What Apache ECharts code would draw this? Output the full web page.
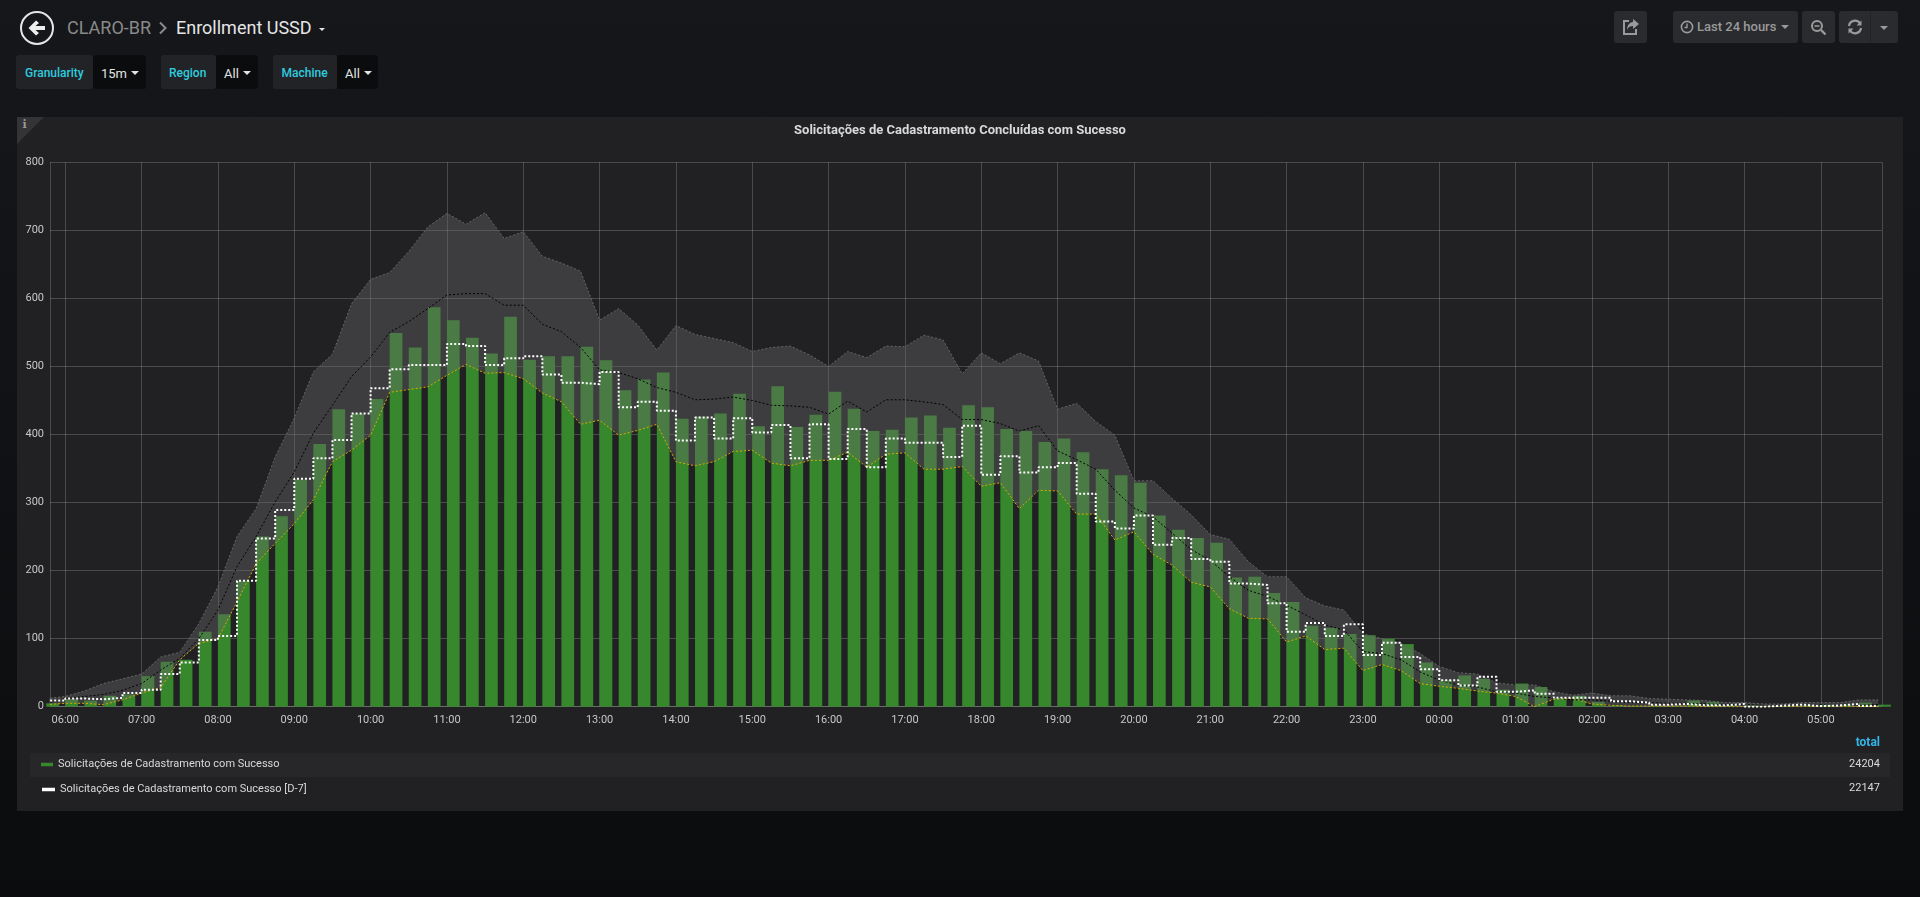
<!DOCTYPE html>
<html><head><meta charset="utf-8"><title>Enrollment USSD</title>
<script src="https://cdn.jsdelivr.net/npm/echarts@6/dist/echarts.min.js"></script>
<style>
html,body{margin:0;padding:0;width:1920px;height:897px;overflow:hidden;background:linear-gradient(#15171a,#0b0c0e);font-family:Roboto,sans-serif}
.a{position:absolute;white-space:nowrap}
.box{position:absolute;border-radius:3px}
.lab{position:absolute;color:#2fcbdf;font-size:12px;font-weight:500;line-height:34px;top:56px}
.val{position:absolute;color:#e3e3e3;font-size:13px;line-height:36px;top:56px}
.caret{position:absolute;width:0;height:0;border-left:4px solid transparent;border-right:4px solid transparent;border-top:4px solid #e3e3e3}
#chart{position:absolute;left:0;top:0;width:1920px;height:897px}
svg{position:absolute}
</style></head><body>
<div class="a" style="left:17px;top:117px;width:1886px;height:694px;background:#212124"></div>
<div class="a" style="left:17px;top:117px;width:0;height:0;border-top:27px solid #343437;border-right:27px solid transparent"></div>
<div class="a" style="left:22.5px;top:118px;color:#9a9a9a;font:bold 11px 'DejaVu Serif',serif">i</div>
<div class="a" style="left:30px;top:753px;width:1860px;height:24px;background:#27272a"></div>

<svg style="left:19px;top:10px" width="36" height="36" viewBox="0 0 36 36"><circle cx="18" cy="18" r="16" fill="none" stroke="#e6e6e6" stroke-width="2"/><path d="M9.5 18 L17 10.5 L20 13 L16.5 16 H26 V20 H16.5 L20 23 L17 25.5 Z" fill="#ededed"/></svg>
<div class="a" style="left:67px;top:16px;color:#8a8a8a;font-size:18px;line-height:24px">CLARO-BR</div>
<svg style="left:158px;top:21px" width="10" height="14" viewBox="0 0 10 14"><path d="M2 1.5 L7.5 7 L2 12.5" fill="none" stroke="#8a8a8a" stroke-width="2"/></svg>
<div class="a" style="left:176px;top:16px;color:#e6e6e6;font-size:18px;line-height:24px">Enrollment USSD</div>
<div class="caret" style="left:319px;top:28px;border-left-width:3.5px;border-right-width:3.5px;border-top-width:3.5px"></div>

<div class="box" style="left:16px;top:55px;width:77px;height:34px;background:#212327"></div>
<div class="box" style="left:93px;top:55px;width:52.5px;height:34px;background:#0b0c0e"></div>
<div class="lab" style="left:25px">Granularity</div><div class="val" style="left:101px">15m</div><div class="caret" style="left:131px;top:71px"></div>
<div class="box" style="left:161px;top:55px;width:54.5px;height:34px;background:#212327"></div>
<div class="box" style="left:215.5px;top:55px;width:42px;height:34px;background:#0b0c0e"></div>
<div class="lab" style="left:169px">Region</div><div class="val" style="left:224px">All</div><div class="caret" style="left:243px;top:71px"></div>
<div class="box" style="left:273px;top:55px;width:64px;height:34px;background:#212327"></div>
<div class="box" style="left:337px;top:55px;width:41px;height:34px;background:#0b0c0e"></div>
<div class="lab" style="left:281.5px">Machine</div><div class="val" style="left:345px">All</div><div class="caret" style="left:364px;top:71px"></div>

<div class="box" style="left:1614px;top:11px;width:33px;height:32px;background:#2a2b2f"></div>
<svg style="left:1622px;top:18px" width="18" height="18" viewBox="0 0 18 18"><path d="M7 3 H2 V16 H14 V11" fill="none" stroke="#9a9a9a" stroke-width="2"/><path d="M11 1 L17 6 L11 11 V8 C8 8 6 9 5 12 C5 7 8 4 11 4 Z" fill="#9a9a9a"/></svg>
<div class="box" style="left:1673px;top:11px;width:125px;height:32px;background:#2a2b2f"></div>
<svg style="left:1680px;top:20px" width="14" height="14" viewBox="0 0 14 14"><circle cx="7" cy="7" r="5.6" fill="none" stroke="#9a9a9a" stroke-width="1.6"/><path d="M7 3.5 V7.5 H4.5" fill="none" stroke="#9a9a9a" stroke-width="1.4"/></svg>
<div class="a" style="left:1697px;top:11px;color:#9a9a9a;font-size:13px;line-height:32px;font-weight:500">Last 24 hours</div>
<div class="caret" style="left:1781px;top:25px;border-top-color:#9a9a9a"></div>
<div class="box" style="left:1802px;top:11px;width:33px;height:32px;background:#2a2b2f"></div>
<svg style="left:1810px;top:19px" width="17" height="17" viewBox="0 0 17 17"><circle cx="7" cy="7" r="5" fill="none" stroke="#9a9a9a" stroke-width="2"/><path d="M11 11 L15.5 15.5" stroke="#9a9a9a" stroke-width="2.4"/><path d="M4.5 7 H9.5" stroke="#9a9a9a" stroke-width="1.6"/></svg>
<div class="box" style="left:1839px;top:11px;width:59px;height:32px;background:#2a2b2f"></div>
<div class="a" style="left:1870px;top:11px;width:1px;height:32px;background:#222326"></div>
<svg style="left:1847px;top:19px" width="16" height="16" viewBox="0 0 16 16"><path d="M2 7 A6 6 0 0 1 13 4.5 M14 9 A6 6 0 0 1 3 11.5" fill="none" stroke="#9a9a9a" stroke-width="2.2"/><path d="M14.5 1.5 V6.5 H9.5 Z M1.5 14.5 V9.5 H6.5 Z" fill="#9a9a9a"/></svg>
<div class="caret" style="left:1880px;top:26px;border-top-color:#9a9a9a"></div>

<div id="chart"></div>
<div class="a" style="right:40px;top:735px;color:#33b5e5;font-size:12px;font-weight:700;line-height:14px">total</div>
<div class="a" style="right:40px;top:757px;color:#d8d9da;font-size:11px;line-height:14px" id="tot1"></div>
<div class="a" style="right:40px;top:781px;color:#d8d9da;font-size:11px;line-height:14px" id="tot2"></div>

<script>
var nameNow = 'Solicitações de Cadastramento com Sucesso';
var nameD7 = 'Solicitações de Cadastramento com Sucesso [D-7]';
var chartTitle = 'Solicitações de Cadastramento Concluídas com Sucesso';
var totalNow = 24204;
var totalD7 = 22147;
// 15-minute samples, first one at 05:45
var sucesso = [5,
 11,9,16,18, 45,66,69,110, 136,185,250,280, 334,386,437,431, 452,549,528,587, 568,542,519,573,
 510,515,515,529, 509,465,481,491, 423,426,431,460, 412,471,411,429, 463,438,405,407, 425,428,410,443,
 440,408,405,389, 394,374,349,340, 329,281,260,248, 241,190,191,167, 154,119,116,107, 105,100,92,65,
 39,46,41,25, 34,29,13,16, 7,2,1,1, 1,9,7,2, 2,1,1,2, 3,3,6,3];
var sucessoD7 = [9,
 12,11,13,20, 25,48,65,98, 104,185,247,289, 335,365,392,431, 468,496,502,502, 533,530,502,512,
 515,488,476,474, 492,440,448,435, 391,425,394,424, 403,414,365,415, 364,408,352,394, 388,388,367,413,
 341,368,344,352, 358,313,272,262, 281,238,248,217, 213,181,179,152, 110,123,104,121, 76,94,73,55,
 39,31,44,22, 24,19,13,13, 13,8,6,3, 4,2,2,4, 0,1.5,3,1, 2,4,1,0];
var bandLower = [3,
 5,5,3,10, 20,28,69,93, 100,154,210,240, 269,304,360,377, 399,462,466,470, 487,503,490,491,
 482,461,448,415, 421,399,406,415, 360,354,360,375, 377,358,354,362, 362,374,352,371, 373,349,349,353,
 324,329,291,318, 317,283,283,245, 257,224,208,183, 176,144,130,129, 95,104,84,86, 53,62,53,34,
 30,27,23,20, 15,0,11,12, 4,2,1,1, 1,1,0,0, 0,0,0,0, 0,0,0,0];
var bandMiddle = [5,
 12,15,18,24, 34,54,71,100, 142,206,250,301, 345,402,443,485, 514,550,566,585, 605,607,607,590,
 590,562,551,528, 495,491,482,469, 462,451,452,455, 450,443,442,440, 430,449,433,451, 451,448,444,422,
 422,416,405,413, 376,363,349,318, 292,279,255,231, 215,191,171,162, 149,135,120,113, 81,78,69,51,
 39,32,29,22, 20,15,13,10, 10,8,6,6, 5,5,4,3, 3,2,2,3, 3,3,2,3];
var bandUpper = [12,
 15,23,34,41, 48,73,80,122, 176,250,291,367, 424,492,518,592, 628,638,669,705, 725,709,726,688,
 698,662,652,640, 568,585,561,524, 560,547,541,535, 522,528,530,517, 500,522,513,530, 529,546,539,489,
 520,504,520,508, 437,446,419,399, 332,332,306,282, 253,246,213,191, 191,160,148,142, 107,100,93,78,
 59,50,48,35, 32,32,22,17, 20,16,16,12, 11,10,9,6, 6,4,4,6, 6,6,10,10];

var MIN = 60000, HOUR = 3600000;
var t0 = Date.UTC(2019,0,1,5,45);
function stamp(i){return t0 + i*15*MIN;}
function pairs(arr){return arr.map(function(v,i){return [stamp(i),v];});}
var viewMin = Date.UTC(2019,0,1,5,48), viewMax = viewMin + 24*HOUR;
var gridW = 1832, barW = 12.7;
// Grafana bars start at their timestamp; ECharts centres them and pads a bar axis by half a bar.
// The hidden bar axis is offset by half a bar and its range reduced so that the pad lands on the same scale.
var span = viewMax - viewMin;
var barShift = (barW/2)/gridW*span;
var padRatio = (barW/2)/(gridW-barW);
var barPad = span/(1+2*padRatio)*padRatio;

document.getElementById('tot1').textContent = totalNow;
document.getElementById('tot2').textContent = totalD7;

var grid = 'rgba(255,255,255,0.19)';
var chart = echarts.init(document.getElementById('chart'),null,{renderer:'canvas'});
chart.setOption({
 animation:false,
 backgroundColor:'transparent',
 textStyle:{fontFamily:'Roboto'},
 title:{text:chartTitle,left:'center',top:123,padding:0,textStyle:{color:'#d8d9da',fontSize:13,fontWeight:'bold',fontFamily:'Roboto',lineHeight:16}},
 grid:{left:50,top:162.3,width:gridW,height:544.4,containLabel:false},
 legend:[
  {data:[{name:nameNow,icon:'rect',itemStyle:{color:'#37872d'}}],left:41,top:759,itemWidth:12,itemHeight:3.5,itemGap:6,padding:0,textStyle:{color:'#d8d9da',fontSize:11,fontFamily:'Roboto'},selectedMode:false},
  {data:[{name:nameD7,icon:'rect',itemStyle:{color:'#ffffff'}}],left:42,top:784,itemWidth:13,itemHeight:3.5,itemGap:6,padding:0,textStyle:{color:'#d8d9da',fontSize:11,fontFamily:'Roboto'},selectedMode:false}
 ],
 xAxis:[
  {type:'time',min:viewMin,max:viewMax,minInterval:HOUR,maxInterval:HOUR,
   axisLine:{lineStyle:{color:grid}},axisTick:{show:false},
   splitLine:{show:true,lineStyle:{color:grid,width:1}},minorSplitLine:{show:false},
   axisLabel:{color:'#c7c7c7',fontSize:11,fontFamily:'Roboto',margin:8,hideOverlap:false,showMinLabel:false,showMaxLabel:false,
    formatter:function(v){var d=new Date(v);return ('0'+d.getUTCHours()).slice(-2)+':00';}}},
  {type:'time',show:false,min:viewMin-barShift+barPad,max:viewMax-barShift-barPad}
 ],
 yAxis:{type:'value',min:0,max:800,interval:100,
   axisLine:{show:false},axisTick:{show:false},
   splitLine:{lineStyle:{color:grid,width:1}},
   axisLabel:{color:'#c7c7c7',fontSize:11,fontFamily:'Roboto',margin:6}},
 series:[
  {name:nameNow,type:'bar',xAxisIndex:1,data:pairs(sucesso),barWidth:barW,itemStyle:{color:'#37872d'}},
  {name:'Limite inferior',type:'line',stack:'band',data:pairs(bandLower),showSymbol:false,
   lineStyle:{color:'#d8ac00',width:1,type:[2,2]}},
  {name:'Limite superior',type:'line',stack:'band',data:pairs(bandUpper.map(function(v,i){return v-bandLower[i];})),showSymbol:false,
   lineStyle:{color:'#666668',width:1,type:[2,2]},areaStyle:{color:'rgba(105,105,105,0.4)',opacity:1}},
  {name:'Média',type:'line',data:pairs(bandMiddle),showSymbol:false,lineStyle:{color:'#000000',width:1,type:[2,2]}},
  {name:nameD7,type:'line',step:'end',data:pairs(sucessoD7),showSymbol:false,itemStyle:{color:'#ffffff'},lineStyle:{color:'#ffffff',width:2,type:[2,2]}}
 ]
});
</script>
</body></html>
